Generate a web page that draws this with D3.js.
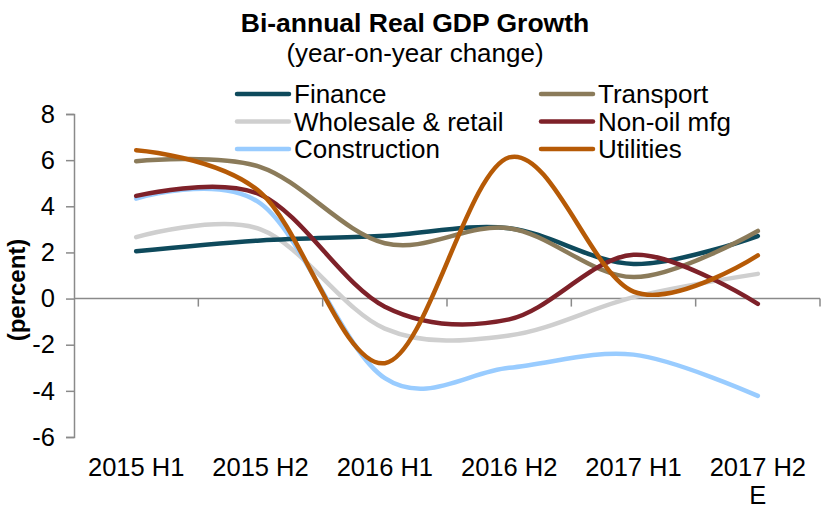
<!DOCTYPE html>
<html>
<head>
<meta charset="utf-8">
<script src="https://cdn.jsdelivr.net/npm/d3@7"></script>
<style>
  html, body { margin: 0; padding: 0; background: #fff; }
  svg { display: block; }
  text { font-family: "Liberation Sans", Arial, sans-serif; fill: #000; }
</style>
</head>
<body>
<svg id="chart" width="827" height="509"></svg>
<script>
// ---- Data ----
const categories = ["2015 H1", "2015 H2", "2016 H1", "2016 H2", "2017 H1", "2017 H2\nE"];
const yTicks = [-6, -4, -2, 0, 2, 4, 6, 8];

const finance      = [2.05, 2.52, 2.72, 3.05, 1.50, 2.71];
const transport    = [5.95, 5.70, 2.40, 3.05, 0.93, 2.93];
const wholesale    = [2.66, 3.00, -1.30, -1.60, 0.06, 1.07];
const nonOilMfg    = [4.45, 4.50, -0.35, -0.90, 1.90, -0.23];
const construction = [4.33, 4.12, -3.45, -3.00, -2.43, -4.22];
const utilities    = [6.43, 4.60, -2.80, 6.12, 0.30, 1.87];

const seriesNames  = ["Finance", "Transport", "Wholesale & retail", "Non-oil mfg", "Construction", "Utilities"];
const seriesValues = [finance, transport, wholesale, nonOilMfg, construction, utilities];
const seriesColors = ["#0E4A5C", "#8B7B5A", "#CFCFCF", "#7E2129", "#99CCFF", "#B65A06"];
const drawOrder    = [2, 4, 0, 1, 3, 5];

// ---- Layout ----
const svg = d3.select("#chart");
const plotLeft = 74, plotRight = 820, plotTop = 114, plotBottom = 437;

const x = d3.scaleBand().domain(categories).range([plotLeft, plotRight]).padding(0);
const xc = c => x(c) + x.bandwidth() / 2;
const y = d3.scaleLinear().domain([-6, 8]).range([plotBottom, plotTop]);

const axisColor = "#8a8a8a";

// Title
svg.append("text").attr("x", 415).attr("y", 32).attr("text-anchor", "middle")
  .style("font-size", "26.5px").style("font-weight", "bold").text("Bi-annual Real GDP Growth");
svg.append("text").attr("x", 415).attr("y", 62).attr("text-anchor", "middle")
  .style("font-size", "26px").text("(year-on-year change)");

// Y axis
const yAxis = svg.append("g").attr("transform", `translate(${plotLeft},0)`)
  .call(d3.axisLeft(y).tickValues(yTicks).tickSize(8).tickPadding(11).tickSizeOuter(8).tickFormat(d => String(d)));
yAxis.select(".domain").attr("stroke", axisColor).attr("stroke-width", 1.5);
yAxis.selectAll(".tick line").attr("stroke", axisColor).attr("stroke-width", 1.5);
yAxis.selectAll(".tick text").style("font-size", "25.5px").attr("fill", "#000")
  .style("font-family", "'Liberation Sans', Arial, sans-serif");

// X axis line at zero with boundary ticks
const boundaries = categories.map(c => x(c) + x.bandwidth());
const xLine = svg.append("g");
xLine.append("line").attr("x1", plotLeft).attr("x2", plotRight).attr("y1", y(0)).attr("y2", y(0))
  .attr("stroke", axisColor).attr("stroke-width", 1.5);
xLine.selectAll("line.tk").data(boundaries).join("line").attr("class", "tk")
  .attr("x1", d => d).attr("x2", d => d).attr("y1", y(0)).attr("y2", y(0) + 8)
  .attr("stroke", axisColor).attr("stroke-width", 1.5);

// X labels (low position)
const xAxis = svg.append("g").attr("transform", "translate(0,458)")
  .call(d3.axisBottom(x).tickSize(0).tickPadding(0));
xAxis.select(".domain").remove();
xAxis.selectAll(".tick text").each(function(d) {
  const t = d3.select(this);
  t.text(null).attr("y", 0).attr("dy", null)
    .style("font-size", "25.5px").attr("fill", "#000")
    .style("font-family", "'Liberation Sans', Arial, sans-serif");
  d.split("\n").forEach((ln, i) => {
    t.append("tspan").attr("x", 0).attr("y", 17.5 + i * 28.5).text(ln);
  });
});

// Y axis title
svg.append("text").attr("transform", "translate(25,290) rotate(-90)").attr("text-anchor", "middle")
  .style("font-size", "24px").style("font-weight", "bold").text("(percent)");

// Lines
const lineGen = d3.line().x((d, i) => xc(categories[i])).y(d => y(d)).curve(d3.curveCardinal.tension(0));
drawOrder.forEach(k => {
  svg.append("path").datum(seriesValues[k]).attr("d", lineGen)
    .attr("fill", "none").attr("stroke", seriesColors[k]).attr("stroke-width", 4.5)
    .attr("stroke-linecap", "round").attr("stroke-linejoin", "round");
});

// Legend
const legendCols = [235, 539];
const legendRows = [94, 121.5, 149];
seriesNames.forEach((name, i) => {
  const cx = legendCols[i % 2], cy = legendRows[Math.floor(i / 2)];
  const g = svg.append("g");
  g.append("line").attr("x1", cx + 2).attr("x2", cx + 54).attr("y1", cy).attr("y2", cy)
    .attr("stroke", seriesColors[i]).attr("stroke-width", 4.5).attr("stroke-linecap", "round");
  g.append("text").attr("x", cx + 59).attr("y", cy + 9).style("font-size", "26px").text(name);
});
</script>
</body>
</html>
